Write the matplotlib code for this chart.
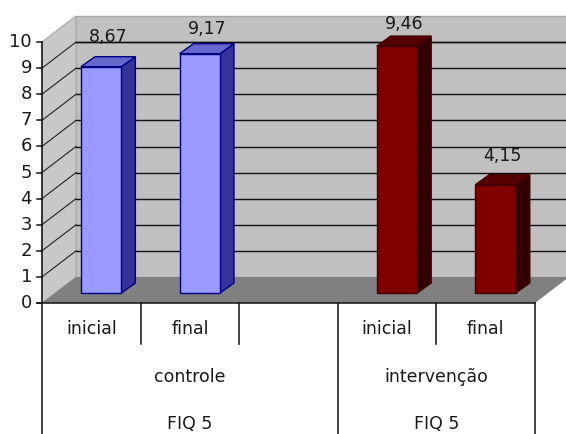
import matplotlib
matplotlib.use('Agg')
import matplotlib.pyplot as plt
from matplotlib.patches import Polygon

plt.rcParams['font.family'] = ['DejaVu Sans']

categories = ['inicial', 'final', '', 'inicial', 'final']
groups = ['controle', 'intervenção']
group_bottom = ['FIQ 5', 'FIQ 5']
bar_positions = [0, 1, 3, 4]
values = [8.67, 9.17, 9.46, 4.15]
value_labels = ['8,67', '9,17', '9,46', '4,15']
label_lift = [30, 25, 22, 29]  # pixels above the bar's front top edge
y_ticks = [0, 1, 2, 3, 4, 5, 6, 7, 8, 9, 10]

light = ['#9999FF', '#9999FF', '#800000', '#800000']
side = ['#333399', '#333399', '#330000', '#330000']
top = ['#6666CC', '#6666CC', '#550000', '#550000']
edge = ['#000080', '#000080', '#400000', '#400000']

PXX = 98.6  # pixels for one category
PXY = 26.1  # pixels for one y unit
dx = 34 / PXX  # depth of the box
dy = 26 / PXY
TEXT = '#1A1A1A'

fig = plt.figure(figsize=(5.66, 4.34), dpi=100)
ax = fig.add_axes([0, 0, 1, 1])
ax.set_xlim(-42 / PXX, (566 - 42) / PXX)
ax.set_ylim(-131 / PXY, 303 / PXY)
ax.axis('off')

# walls and floor
ax.add_patch(Polygon([(dx, dy), (5 + dx, dy), (5 + dx, 10 + dy), (dx, 10 + dy)],
                     fc='#C0C0C0', ec='#A8A8A8', lw=1, zorder=1))
ax.add_patch(Polygon([(0, 0), (dx, dy), (dx, 10 + dy), (0, 10)],
                     fc='#C8C8C8', ec='#B0B0B0', lw=1, zorder=1))
ax.add_patch(Polygon([(0, 0), (5, 0), (5 + dx, dy), (dx, dy)],
                     fc='#808080', ec='none', zorder=2))

# gridlines, back wall then side wall
for t in y_ticks[1:-1]:
    ax.plot([dx, 5 + dx], [t + dy, t + dy], color='#111111', lw=1, zorder=2)
    ax.plot([0, dx], [t, t + dy], color='#222222', lw=0.8, zorder=2)
ax.plot([dx, 5 + dx], [9 + dy, 9 + dy], color='#111111', lw=1, zorder=2)

# bars stand in the middle of the box depth
bar_w = 0.41
ox = 14 / PXX
oy = 10 / PXY
for i, pos in enumerate(bar_positions):
    v = values[i]
    x0 = pos + 0.395
    x1 = x0 + bar_w
    ax.add_patch(Polygon([(x1, oy), (x1 + ox, 2 * oy), (x1 + ox, v + 2 * oy), (x1, v + oy)],
                         fc=side[i], ec=edge[i], lw=1, zorder=4))
    ax.add_patch(Polygon([(x0, v + oy), (x1, v + oy), (x1 + ox, v + 2 * oy), (x0 + ox, v + 2 * oy)],
                         fc=top[i], ec=edge[i], lw=1, zorder=4))
    ax.add_patch(Polygon([(x0, oy), (x1, oy), (x1, v + oy), (x0, v + oy)],
                         fc=light[i], ec=edge[i], lw=1, zorder=5))
    ax.text(x0 + bar_w / 2 + 7 / PXX, v + oy + label_lift[i] / PXY, value_labels[i],
            ha='center', va='center', fontsize=12.5, color=TEXT, zorder=6)

# axis lines and ticks
ax.plot([0, 0], [-131 / PXY, 10], color='#111111', lw=1.1, zorder=6)
ax.plot([-5 / PXX, 5], [0, 0], color='#111111', lw=1.1, zorder=6)
for t in y_ticks:
    ax.plot([-5 / PXX, 0], [t, t], color='#111111', lw=1.1, zorder=6)
    ax.text(-10 / PXX, t, str(t), ha='right', va='center',
            fontsize=13, color=TEXT)

# multi level category axis
label_y = -26 / PXY
mid_y = -74 / PXY
low_y = -121 / PXY
short_end = -41 / PXY
for x in [1, 2, 4]:
    ax.plot([x, x], [0, short_end], color='#111111', lw=1.1)
for x in [3, 5]:
    ax.plot([x, x], [0, -131 / PXY], color='#111111', lw=1.1)
for i, c in enumerate(categories):
    ax.text(i + 0.5, label_y, c, ha='center', va='center',
            fontsize=12.5, color=TEXT)
for i, center in enumerate([1.5, 4.0]):
    ax.text(center, mid_y, groups[i], ha='center', va='center',
            fontsize=12.5, color=TEXT)
    ax.text(center, low_y, group_bottom[i], ha='center', va='center',
            fontsize=12.5, color=TEXT)

fig.savefig('out.png', dpi=100)
